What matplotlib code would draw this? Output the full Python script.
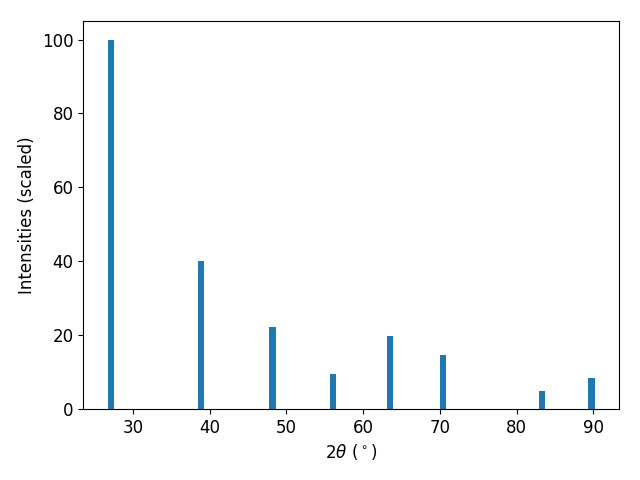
import numpy as np
import matplotlib.pyplot as plt

# peak positions (2theta, degrees) and scaled intensities
two_theta = np.array([27.09, 38.83, 48.18, 56.12, 63.48, 70.35, 83.35, 89.74])
intensity = np.array([100.0, 40.0, 22.2, 9.4, 19.7, 14.6, 4.8, 8.3])

plt.rcParams['font.size'] = 12

fig, ax = plt.subplots(figsize=(6.4, 4.8), dpi=100)
ax.bar(two_theta, intensity, width=0.8)
ax.set_xlabel(r'$2\theta\ (^\circ)$')
ax.set_ylabel('Intensities (scaled)')
fig.subplots_adjust(left=0.13, right=0.967, top=0.956, bottom=0.148)
fig.savefig('out.png')
